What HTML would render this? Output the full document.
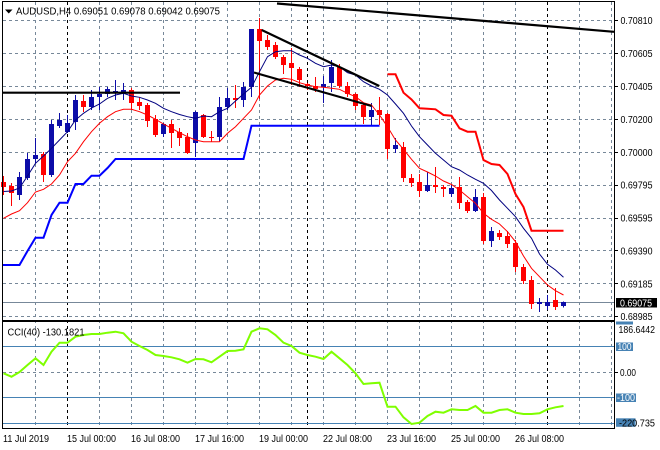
<!DOCTYPE html>
<html>
<head>
<meta charset="utf-8">
<style>
html,body{margin:0;padding:0;background:#fff;}
svg{display:block;}
text{font-family:"Liberation Sans",Arial,sans-serif;font-size:10px;}
</style>
</head>
<body>
<svg width="660" height="450" viewBox="0 0 660 450" xmlns="http://www.w3.org/2000/svg">
<rect x="0" y="0" width="660" height="450" fill="#fff"/>

<g stroke="#778899" stroke-width="1" stroke-dasharray="3,3" fill="none">
<line x1="3" y1="20.5" x2="614" y2="20.5"/>
<line x1="3" y1="53.5" x2="614" y2="53.5"/>
<line x1="3" y1="86.5" x2="614" y2="86.5"/>
<line x1="3" y1="119.5" x2="614" y2="119.5"/>
<line x1="3" y1="152.5" x2="614" y2="152.5"/>
<line x1="3" y1="185.5" x2="614" y2="185.5"/>
<line x1="3" y1="218.5" x2="614" y2="218.5"/>
<line x1="3" y1="250.5" x2="614" y2="250.5"/>
<line x1="3" y1="283.5" x2="614" y2="283.5"/>
<line x1="3" y1="316.5" x2="614" y2="316.5"/>
<line x1="3" y1="372.5" x2="614" y2="372.5"/>
<line x1="35.5" y1="2" x2="35.5" y2="428"/>
<line x1="99.5" y1="2" x2="99.5" y2="428"/>
<line x1="131.5" y1="2" x2="131.5" y2="428"/>
<line x1="163.5" y1="2" x2="163.5" y2="428"/>
<line x1="195.5" y1="2" x2="195.5" y2="428"/>
<line x1="227.5" y1="2" x2="227.5" y2="428"/>
<line x1="259.5" y1="2" x2="259.5" y2="428"/>
<line x1="291.5" y1="2" x2="291.5" y2="428"/>
<line x1="323.5" y1="2" x2="323.5" y2="428"/>
<line x1="355.5" y1="2" x2="355.5" y2="428"/>
<line x1="387.5" y1="2" x2="387.5" y2="428"/>
<line x1="419.5" y1="2" x2="419.5" y2="428"/>
<line x1="451.5" y1="2" x2="451.5" y2="428"/>
<line x1="483.5" y1="2" x2="483.5" y2="428"/>
<line x1="515.5" y1="2" x2="515.5" y2="428"/>
<line x1="579.5" y1="2" x2="579.5" y2="428"/>
<line x1="611.5" y1="2" x2="611.5" y2="428"/>
</g>
<g stroke="#000" stroke-width="1" stroke-dasharray="3,3">
<line x1="67.5" y1="2" x2="67.5" y2="428"/>
<line x1="307.5" y1="2" x2="307.5" y2="428"/>
<line x1="547.5" y1="2" x2="547.5" y2="428"/>
</g>

<line x1="3" y1="302.5" x2="614" y2="302.5" stroke="#778899" stroke-width="1"/>

<g stroke="#4682B4" stroke-width="1">
<line x1="3" y1="346.5" x2="614" y2="346.5"/>
<line x1="3" y1="397.5" x2="614" y2="397.5"/>
<line x1="3" y1="423.5" x2="614" y2="423.5"/>
</g>

<polyline fill="none" stroke="#0000FF" stroke-width="2" points="3,265 19.5,265 27.5,251 35.5,237.7 43.5,237.7 51.5,215 59.5,202.7 67.5,202.7 75.5,184 83.5,184 91.5,175.7 99.5,175.7 107.5,168 115.5,159 243.5,159 251.5,125.7 379.5,125.7"/>
<polyline fill="none" stroke="#FF0000" stroke-width="2" points="387.5,74.3 395.5,74.3 403.5,92.7 411.5,99.5 419.5,108.3 427.5,108.7 435.5,109.3 443.5,115 451.5,115.7 459.5,128.3 467.5,131.7 475.5,131.7 483.5,160 491.5,164 499.5,165 507.5,174 515.5,194 523.5,207 531.5,230.7 563.5,230.7"/>

<g stroke="#FF0000" fill="#FF0000" stroke-width="1">
<line x1="3.5" y1="176" x2="3.5" y2="195"/><rect x="1" y="182" width="5" height="5" stroke="none"/>
<line x1="11.5" y1="183" x2="11.5" y2="206"/><rect x="9" y="186" width="5" height="7" stroke="none"/>
<line x1="43.5" y1="152" x2="43.5" y2="182"/><rect x="41" y="154" width="5" height="21" stroke="none"/>
<line x1="83.5" y1="95" x2="83.5" y2="112"/><rect x="81" y="101" width="5" height="6" stroke="none"/>
<line x1="131.5" y1="88" x2="131.5" y2="110"/><rect x="129" y="90" width="5" height="13" stroke="none"/>
<line x1="139.5" y1="97" x2="139.5" y2="110"/><rect x="137" y="102" width="5" height="4" stroke="none"/>
<line x1="147.5" y1="103" x2="147.5" y2="127"/><rect x="145" y="105" width="5" height="16" stroke="none"/>
<line x1="155.5" y1="115" x2="155.5" y2="137"/><rect x="153" y="119" width="5" height="16" stroke="none"/>
<line x1="171.5" y1="120" x2="171.5" y2="148"/><rect x="169" y="124" width="5" height="9" stroke="none"/>
<line x1="179.5" y1="128" x2="179.5" y2="146"/><rect x="177" y="132" width="5" height="6" stroke="none"/>
<line x1="187.5" y1="133" x2="187.5" y2="154"/><rect x="185" y="137" width="5" height="16" stroke="none"/>
<line x1="203.5" y1="114" x2="203.5" y2="138"/><rect x="201" y="115" width="5" height="22" stroke="none"/>
<line x1="211.5" y1="131" x2="211.5" y2="142"/><rect x="209" y="137" width="5" height="1" stroke="none"/>
<line x1="235.5" y1="85" x2="235.5" y2="108"/><rect x="233" y="98" width="5" height="2" stroke="none"/>
<line x1="259.5" y1="18" x2="259.5" y2="99"/><rect x="257" y="29" width="5" height="12" stroke="none"/>
<line x1="267.5" y1="35" x2="267.5" y2="50"/><rect x="265" y="40" width="5" height="7" stroke="none"/>
<line x1="275.5" y1="42" x2="275.5" y2="59"/><rect x="273" y="45" width="5" height="12" stroke="none"/>
<line x1="283.5" y1="55" x2="283.5" y2="74"/><rect x="281" y="57" width="5" height="8" stroke="none"/>
<line x1="291.5" y1="48" x2="291.5" y2="85"/><rect x="289" y="63" width="5" height="5" stroke="none"/>
<line x1="299.5" y1="67" x2="299.5" y2="87"/><rect x="297" y="69" width="5" height="11" stroke="none"/>
<line x1="307.5" y1="83" x2="307.5" y2="90"/><rect x="305" y="84" width="5" height="2" stroke="none"/>
<line x1="315.5" y1="77" x2="315.5" y2="92"/><rect x="313" y="86" width="5" height="3" stroke="none"/>
<line x1="339.5" y1="64" x2="339.5" y2="88"/><rect x="337" y="67" width="5" height="19" stroke="none"/>
<line x1="347.5" y1="82" x2="347.5" y2="97"/><rect x="345" y="86" width="5" height="8" stroke="none"/>
<line x1="355.5" y1="93" x2="355.5" y2="110"/><rect x="353" y="94" width="5" height="12" stroke="none"/>
<line x1="363.5" y1="103" x2="363.5" y2="124"/><rect x="361" y="105" width="5" height="12" stroke="none"/>
<line x1="379.5" y1="97" x2="379.5" y2="125"/><rect x="377" y="110" width="5" height="5" stroke="none"/>
<line x1="387.5" y1="113" x2="387.5" y2="159"/><rect x="385" y="114" width="5" height="35" stroke="none"/>
<line x1="403.5" y1="142" x2="403.5" y2="182"/><rect x="401" y="147" width="5" height="31" stroke="none"/>
<line x1="411.5" y1="174" x2="411.5" y2="187"/><rect x="409" y="178" width="5" height="5" stroke="none"/>
<line x1="419.5" y1="174" x2="419.5" y2="197"/><rect x="417" y="182" width="5" height="9" stroke="none"/>
<line x1="435.5" y1="167" x2="435.5" y2="193"/><rect x="433" y="185" width="5" height="2" stroke="none"/>
<line x1="443.5" y1="185" x2="443.5" y2="197"/><rect x="441" y="187" width="5" height="2" stroke="none"/>
<line x1="459.5" y1="177" x2="459.5" y2="209"/><rect x="457" y="187" width="5" height="16" stroke="none"/>
<line x1="467.5" y1="200" x2="467.5" y2="213"/><rect x="465" y="202" width="5" height="9" stroke="none"/>
<line x1="483.5" y1="193" x2="483.5" y2="244"/><rect x="481" y="197" width="5" height="44" stroke="none"/>
<line x1="499.5" y1="230" x2="499.5" y2="240"/><rect x="497" y="233" width="5" height="4" stroke="none"/>
<line x1="507.5" y1="231" x2="507.5" y2="248"/><rect x="505" y="236" width="5" height="8" stroke="none"/>
<line x1="515.5" y1="240" x2="515.5" y2="272"/><rect x="513" y="243" width="5" height="24" stroke="none"/>
<line x1="523.5" y1="264" x2="523.5" y2="284"/><rect x="521" y="267" width="5" height="14" stroke="none"/>
<line x1="531.5" y1="276" x2="531.5" y2="309"/><rect x="529" y="280" width="5" height="24" stroke="none"/>
<line x1="555.5" y1="288" x2="555.5" y2="310"/><rect x="553" y="300" width="5" height="7" stroke="none"/>
</g>

<g stroke="#0C0CA8" fill="#0C0CA8" stroke-width="1">
<line x1="19.5" y1="172" x2="19.5" y2="200"/><rect x="17" y="177" width="5" height="18" stroke="none"/>
<line x1="27.5" y1="153" x2="27.5" y2="180"/><rect x="25" y="159" width="5" height="19" stroke="none"/>
<line x1="35.5" y1="138" x2="35.5" y2="163"/><rect x="33" y="155" width="5" height="4" stroke="none"/>
<line x1="51.5" y1="120" x2="51.5" y2="177"/><rect x="49" y="124" width="5" height="51" stroke="none"/>
<line x1="59.5" y1="113" x2="59.5" y2="128"/><rect x="57" y="120" width="5" height="6" stroke="none"/>
<line x1="67.5" y1="115" x2="67.5" y2="133"/><rect x="65" y="123" width="5" height="9" stroke="none"/>
<line x1="75.5" y1="95" x2="75.5" y2="130"/><rect x="73" y="100" width="5" height="22" stroke="none"/>
<line x1="91.5" y1="90" x2="91.5" y2="110"/><rect x="89" y="97" width="5" height="10" stroke="none"/>
<line x1="99.5" y1="87" x2="99.5" y2="110"/><rect x="97" y="94" width="5" height="3" stroke="none"/>
<line x1="107.5" y1="87" x2="107.5" y2="97"/><rect x="105" y="89" width="5" height="5" stroke="none"/>
<line x1="115.5" y1="80" x2="115.5" y2="100"/><rect x="113" y="91" width="5" height="2" stroke="none"/>
<line x1="123.5" y1="83" x2="123.5" y2="100"/><rect x="121" y="90" width="5" height="3" stroke="none"/>
<line x1="163.5" y1="123" x2="163.5" y2="137"/><rect x="161" y="124" width="5" height="10" stroke="none"/>
<line x1="195.5" y1="111" x2="195.5" y2="157"/><rect x="193" y="112" width="5" height="31" stroke="none"/>
<line x1="219.5" y1="97" x2="219.5" y2="142"/><rect x="217" y="107" width="5" height="30" stroke="none"/>
<line x1="227.5" y1="88" x2="227.5" y2="110"/><rect x="225" y="98" width="5" height="9" stroke="none"/>
<line x1="243.5" y1="82" x2="243.5" y2="107"/><rect x="241" y="87" width="5" height="13" stroke="none"/>
<line x1="251.5" y1="29" x2="251.5" y2="97"/><rect x="249" y="29" width="5" height="58" stroke="none"/>
<line x1="323.5" y1="76" x2="323.5" y2="103"/><rect x="321" y="84" width="5" height="3" stroke="none"/>
<line x1="331.5" y1="60" x2="331.5" y2="92"/><rect x="329" y="67" width="5" height="16" stroke="none"/>
<line x1="371.5" y1="103" x2="371.5" y2="125"/><rect x="369" y="110" width="5" height="7" stroke="none"/>
<line x1="395.5" y1="138" x2="395.5" y2="153"/><rect x="393" y="145" width="5" height="4" stroke="none"/>
<line x1="427.5" y1="172" x2="427.5" y2="192"/><rect x="425" y="185" width="5" height="6" stroke="none"/>
<line x1="451.5" y1="185" x2="451.5" y2="197"/><rect x="449" y="188" width="5" height="6" stroke="none"/>
<line x1="475.5" y1="189" x2="475.5" y2="212"/><rect x="473" y="197" width="5" height="14" stroke="none"/>
<line x1="491.5" y1="227" x2="491.5" y2="247"/><rect x="489" y="231" width="5" height="10" stroke="none"/>
<line x1="539.5" y1="298" x2="539.5" y2="312"/><rect x="537" y="302" width="5" height="2" stroke="none"/>
<line x1="547.5" y1="295" x2="547.5" y2="310"/><rect x="545" y="302" width="5" height="4" stroke="none"/>
<line x1="563.5" y1="301.5" x2="563.5" y2="307.5"/><rect x="561" y="302" width="5" height="4" stroke="none"/>
</g>

<polyline fill="none" stroke="#000080" stroke-width="1" points="3.5,191.5 11.5,191 19.5,188 27.5,176 35.5,163.3 43.5,156 51.5,148.3 59.5,140 67.5,131.7 75.5,120 83.5,113.3 91.5,108 99.5,104 107.5,98.3 115.5,95 123.5,93.3 131.5,96 139.5,97.3 147.5,100 155.5,103.3 163.5,108.3 171.5,111.7 179.5,114.5 187.5,116.7 195.5,118.3 203.5,116 211.5,116.7 219.5,111.7 227.5,108.3 235.5,101 243.5,94 251.5,87.3 259.5,71.7 267.5,56.7 275.5,51.7 283.5,50.7 291.5,50.7 299.5,55 307.5,58.3 315.5,63.3 323.5,66.7 331.5,65 339.5,66.7 347.5,72.7 355.5,75 363.5,81.7 371.5,86 379.5,89.3 387.5,95 395.5,104 403.5,113.3 411.5,126 419.5,136.7 427.5,145 435.5,153.3 443.5,160 451.5,166.7 459.5,170 467.5,175 475.5,179.3 483.5,183.3 491.5,190.5 499.5,200 507.5,208.3 515.5,216.7 523.5,228.3 531.5,238.3 539.5,254 547.5,264.3 555.5,270 563.5,277.3"/>
<polyline fill="none" stroke="#FF0000" stroke-width="1" points="3.5,218.3 11.5,214 19.5,210.7 27.5,202.7 35.5,192 43.5,189.3 51.5,184 59.5,175 67.5,161.7 75.5,153.3 83.5,141.7 91.5,131.7 99.5,123.3 107.5,116.7 115.5,111.7 123.5,109.3 131.5,109.3 139.5,111.7 147.5,115 155.5,119.3 163.5,124 171.5,128.3 179.5,132.7 187.5,136.7 195.5,140 203.5,141.7 211.5,141.7 219.5,141.7 227.5,133.3 235.5,126.7 243.5,118.3 251.5,110 259.5,95 267.5,86 275.5,80 283.5,78.3 291.5,79.3 299.5,82.7 307.5,85 315.5,86.7 323.5,87.3 331.5,88.3 339.5,89.3 347.5,93.3 355.5,96.7 363.5,102.7 371.5,105 379.5,115 387.5,126.7 395.5,140 403.5,149.3 411.5,159.3 419.5,168.3 427.5,172 435.5,176 443.5,181 451.5,184.5 459.5,190 467.5,196.7 475.5,203.3 483.5,213.3 491.5,219.3 499.5,224 507.5,231.7 515.5,241.7 523.5,256 531.5,268.3 539.5,276.7 547.5,285 555.5,290.7 563.5,295"/>

<g stroke="#000" stroke-width="2.2" fill="none">
<line x1="3" y1="92.7" x2="180" y2="92.7"/>
<line x1="277" y1="3.5" x2="614" y2="31.8"/>
<line x1="261.7" y1="30" x2="379.3" y2="86"/>
<line x1="254" y1="72.5" x2="371.5" y2="106"/>
</g>

<polyline fill="none" stroke="#7FFF00" stroke-width="2" points="3.5,373.3 11.5,376.7 19.5,372 27.5,365 35.5,358.3 43.5,365 51.5,351.7 59.5,342.7 67.5,342.7 75.5,336.7 83.5,335 91.5,334 99.5,334 107.5,332.7 115.5,331.7 123.5,333.3 131.5,341.7 139.5,346 147.5,350 155.5,355 163.5,356 171.5,357.3 179.5,359.3 187.5,362.7 195.5,359 203.5,359.3 211.5,362.3 219.5,356.7 227.5,351 235.5,350.7 243.5,349.3 251.5,331.7 259.5,328.3 267.5,329.3 275.5,335 283.5,342.7 291.5,346 299.5,352.7 307.5,355 315.5,356.7 323.5,359 331.5,351.7 339.5,358.3 347.5,365 355.5,373.3 363.5,384 371.5,383.3 379.5,382.7 387.5,406.7 395.5,406.7 403.5,417.3 411.5,424 419.5,422.7 427.5,416 435.5,411.7 443.5,412.7 451.5,409.3 459.5,410 467.5,410 475.5,406 483.5,412.7 491.5,412.7 499.5,410 507.5,409.3 515.5,412.7 523.5,414 531.5,414 539.5,413.3 547.5,409.3 555.5,407.3 563.5,406"/>

<g stroke="#000" fill="none">
<line x1="2.5" y1="1" x2="2.5" y2="429" stroke-width="1"/>
<line x1="2" y1="1.5" x2="615" y2="1.5" stroke-width="1"/>
<line x1="614.5" y1="1" x2="614.5" y2="429" stroke-width="1"/>
<line x1="2" y1="321" x2="615" y2="321" stroke-width="2"/>
<line x1="2" y1="428.5" x2="615" y2="428.5" stroke-width="1"/>
</g>
<g stroke="#000" stroke-width="1">
<line x1="614" y1="20.5" x2="618" y2="20.5"/>
<line x1="614" y1="53.5" x2="618" y2="53.5"/>
<line x1="614" y1="86.5" x2="618" y2="86.5"/>
<line x1="614" y1="119.5" x2="618" y2="119.5"/>
<line x1="614" y1="152.5" x2="618" y2="152.5"/>
<line x1="614" y1="185.5" x2="618" y2="185.5"/>
<line x1="614" y1="218.5" x2="618" y2="218.5"/>
<line x1="614" y1="250.5" x2="618" y2="250.5"/>
<line x1="614" y1="283.5" x2="618" y2="283.5"/>
<line x1="614" y1="316.5" x2="618" y2="316.5"/>
<line x1="614" y1="372.5" x2="618" y2="372.5"/>
</g>

<polygon points="5,9.5 12.5,9.5 8.75,13.5" fill="#000"/>
<text x="16" y="14.5" textLength="204" lengthAdjust="spacingAndGlyphs" fill="#000">AUDUSD,H4  0.69051 0.69078 0.69042 0.69075</text>
<text x="7.5" y="335.3" textLength="77" lengthAdjust="spacingAndGlyphs" fill="#000">CCI(40) -130.1821</text>

<g fill="#000">
<text x="620.5" y="24.2" textLength="32" lengthAdjust="spacingAndGlyphs">0.70810</text>
<text x="620.5" y="57.1" textLength="32" lengthAdjust="spacingAndGlyphs">0.70605</text>
<text x="620.5" y="90" textLength="32" lengthAdjust="spacingAndGlyphs">0.70405</text>
<text x="620.5" y="122.9" textLength="32" lengthAdjust="spacingAndGlyphs">0.70200</text>
<text x="620.5" y="155.8" textLength="32" lengthAdjust="spacingAndGlyphs">0.70000</text>
<text x="620.5" y="188.6" textLength="32" lengthAdjust="spacingAndGlyphs">0.69795</text>
<text x="620.5" y="221.5" textLength="32" lengthAdjust="spacingAndGlyphs">0.69595</text>
<text x="620.5" y="254.4" textLength="32" lengthAdjust="spacingAndGlyphs">0.69390</text>
<text x="620.5" y="287.3" textLength="32" lengthAdjust="spacingAndGlyphs">0.69185</text>
<text x="620.5" y="320.2" textLength="32" lengthAdjust="spacingAndGlyphs">0.68985</text>
</g>
<rect x="616" y="298" width="41" height="9.5" fill="#000"/>
<text x="620" y="306.3" textLength="32" lengthAdjust="spacingAndGlyphs" fill="#fff">0.69075</text>

<rect x="616" y="321.5" width="17" height="3" fill="#4682B4"/>
<text x="618.5" y="333" textLength="36.5" lengthAdjust="spacingAndGlyphs" fill="#000">186.6442</text>
<rect x="616" y="342.5" width="17" height="8.5" fill="#4682B4"/>
<text x="617.5" y="350.2" textLength="14" lengthAdjust="spacingAndGlyphs" fill="#fff">100</text>
<text x="620" y="376" textLength="16" lengthAdjust="spacingAndGlyphs" fill="#000">0.00</text>
<rect x="616" y="393.5" width="20" height="8.5" fill="#4682B4"/>
<text x="617" y="401.2" textLength="18" lengthAdjust="spacingAndGlyphs" fill="#fff">-100</text>
<rect x="616" y="418.3" width="19.5" height="8.5" fill="#4682B4"/>
<text x="619" y="426.3" textLength="36" lengthAdjust="spacingAndGlyphs" fill="#000">-220.735</text>

<g fill="#000">
<text x="3" y="442" textLength="46" lengthAdjust="spacingAndGlyphs">11 Jul 2019</text>
<text x="67" y="442" textLength="49" lengthAdjust="spacingAndGlyphs">15 Jul 00:00</text>
<text x="131" y="442" textLength="49" lengthAdjust="spacingAndGlyphs">16 Jul 08:00</text>
<text x="195" y="442" textLength="49" lengthAdjust="spacingAndGlyphs">17 Jul 16:00</text>
<text x="259" y="442" textLength="49" lengthAdjust="spacingAndGlyphs">19 Jul 00:00</text>
<text x="323" y="442" textLength="49" lengthAdjust="spacingAndGlyphs">22 Jul 08:00</text>
<text x="387" y="442" textLength="49" lengthAdjust="spacingAndGlyphs">23 Jul 16:00</text>
<text x="451" y="442" textLength="49" lengthAdjust="spacingAndGlyphs">25 Jul 00:00</text>
<text x="515" y="442" textLength="49" lengthAdjust="spacingAndGlyphs">26 Jul 08:00</text>
</g>
</svg>
</body>
</html>
